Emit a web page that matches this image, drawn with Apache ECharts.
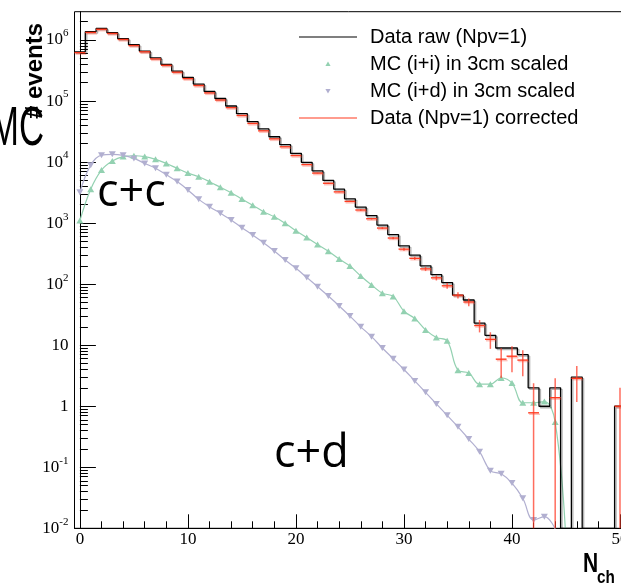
<!DOCTYPE html>
<html>
<head>
<meta charset="utf-8">
<script src="https://cdn.jsdelivr.net/npm/echarts@6/dist/echarts.min.js"></script>
<style>
  html, body { margin: 0; padding: 0; background: #fff; }
  #chart { width: 621px; height: 584px; }
</style>
</head>
<body>
<div id="chart"></div>
<script>
// bin centres (N_ch)
const nch = [0, 1, 2, 3, 4, 5, 6, 7, 8, 9, 10, 11, 12, 13, 14, 15, 16, 17, 18, 19, 20,
  21, 22, 23, 24, 25, 26, 27, 28, 29, 30, 31, 32, 33, 34, 35, 36, 37, 38, 39, 40,
  41, 42, 43, 44, 45, 46, 47, 48, 49, 50];

// Data raw (Npv=1), black histogram
const dataRaw = [6.4e5, 1.37e6, 1.55e6, 1.32e6, 1.05e6, 8.4e5, 6.6e5, 5.1e5, 4.0e5, 3.1e5,
  2.45e5, 1.9e5, 1.44e5, 1.1e5, 8.3e4, 6.2e4, 4.6e4, 3.5e4, 2.6e4, 1.93e4,
  1.39e4, 9900, 7200, 5000, 3600, 2500, 1830, 1330, 930, 650,
  425, 300, 200, 143, 106, 66, 55, 23, 14.5, 9,
  9, 7, 2, 1, 2, 0, 3, 0, 0, 0, 1];

// Data (Npv=1) corrected, red points with errors
const dataCorr = [6.2e5, 1.33e6, 1.5e6, 1.28e6, 1.02e6, 8.1e5, 6.4e5, 4.9e5, 3.85e5, 2.97e5,
  2.33e5, 1.8e5, 1.36e5, 1.04e5, 7.8e4, 5.8e4, 4.3e4, 3.25e4, 2.4e4, 1.78e4,
  1.28e4, 9100, 6600, 4500, 3250, 2270, 1640, 1180, 830, 570,
  375, 265, 178, 127, 94, 66, 51, 21, 12.5, 5.9,
  6.6, 5.7, 0.78, null, 1.38, null, 2.87, null, null, null, 1.0];
const dataErr = [800, 1170, 1245, 1150, 1025, 917, 812, 714, 632, 557,
  495, 436, 379, 332, 288, 249, 214, 187, 161, 139,
  118, 99, 85, 71, 60, 50, 43, 36, 30, 25,
  21, 17, 14, 12, 10, 8, 7.4, 4.8, 3.8, 3,
  3, 2.6, 1.6, 0, 1.5, 0, 1.7, 0, 0, 0, 1];

// MC (i+i) in 3cm scaled, green
const mcII = [1100, 3600, 7400, 10400, 12300, 12700, 12300, 11100, 9500, 7900,
  6600, 5750, 4770, 3860, 3150, 2480, 1960, 1540, 1270, 993,
  752, 580, 447, 347, 258, 198, 136, 97, 71, 63,
  36, 27.5, 17.8, 13.4, 11.8, 3.9, 3.5, 2.3, 2.3, 2.9,
  2.4, 1.14, 1.14, 1.19, 0.55, 0.006];

// MC (i+d) in 3cm scaled, purple
const mcID = [3200, 8900, 13000, 13400, 12900, 11500, 9500, 7900, 6200, 4800,
  3500, 2450, 1860, 1450, 1130, 841, 638, 478, 349, 249,
  182, 129, 91, 64, 44, 30, 20, 13.8, 9.0, 6.0,
  4.0, 2.6, 1.69, 1.09, 0.71, 0.46, 0.29, 0.18, 0.088, 0.078,
  0.055, 0.031, 0.0137, 0.0155, 0.0098];

const xMajor = [0, 10, 20, 30, 40, 50];
const xMinor = [2, 4, 6, 8, 12, 14, 16, 18, 22, 24, 26, 28, 32, 34, 36, 38, 42, 44, 46, 48];
const yMajor = [0.01, 0.1, 1, 10, 100, 1e3, 1e4, 1e5, 1e6];

const Y_MIN = 0.01;
const Y_MAX = 2.91e6;
const RED = '#ff3a1f';
const GREEN = '#93d1b1';
const PURPLE = '#b1afd0';

const yMinor = [];
yMajor.forEach(d => {
  for (let k = 2; k <= 9; k++) {
    const v = +(k * d).toPrecision(3);
    if (v < Y_MAX) yMinor.push(v);
  }
});

// histogram outline: each bin drawn from its lower to upper edge
const histPts = [];
nch.forEach((x, i) => {
  const v = dataRaw[i] > 0 ? dataRaw[i] : Y_MIN;
  histPts.push([x - 0.5, v], [x + 0.5, v]);
});

const corrPts = nch
  .map((x, i) => [x, dataCorr[i], dataErr[i]])
  .filter(d => d[1] != null);

const iiPts = mcII.map((v, i) => [nch[i], v]);
const idPts = mcID.map((v, i) => [nch[i], v]);

const LINE_ICON = 'path://M0,0M66,20M0,9.4L58,9.4L58,10.6L0,10.6Z';
const UP_ICON = 'path://M0,0M66,20M29,7.5L31.6,12L26.4,12Z';
const DOWN_ICON = 'path://M0,0M66,20M26.4,8L31.6,8L29,12.5Z';

const serif = '"Liberation Serif", "DejaVu Serif", serif';
const sans = '"Liberation Sans", Arial, sans-serif';

const chart = echarts.init(document.getElementById('chart'));
chart.setOption({
  animation: false,
  backgroundColor: '#fff',
  grid: {
    // the frame runs past the right edge of the picture, like the original crop
    left: 74.5, top: 11.7, bottom: 55.7, width: 567.1,
    outerBoundsMode: 'none',
    containLabel: false,
    show: true, borderColor: '#000', borderWidth: 1
  },
  legend: {
    orient: 'vertical',
    left: 294, top: 22,
    itemWidth: 66, itemHeight: 20, itemGap: 7,
    selectedMode: false,
    textStyle: { fontFamily: sans, fontSize: 20, color: '#000', lineHeight: 20 },
    data: [
      { name: 'Data raw (Npv=1)', icon: LINE_ICON, itemStyle: { borderWidth: 0, color: '#000' } },
      { name: 'MC (i+i) in 3cm scaled', icon: UP_ICON, itemStyle: { borderWidth: 0, color: GREEN } },
      { name: 'MC (i+d) in 3cm scaled', icon: DOWN_ICON, itemStyle: { borderWidth: 0, color: PURPLE } },
      { name: 'Data (Npv=1) corrected', icon: LINE_ICON, itemStyle: { borderWidth: 0, color: RED } }
    ]
  },
  xAxis: [
    {
      type: 'value', min: -0.5, max: 52, position: 'bottom',
      axisLine: { lineStyle: { color: '#000', width: 1 } },
      axisTick: { inside: true, length: 14, customValues: xMajor, lineStyle: { color: '#000' } },
      axisLabel: {
        customValues: xMajor, margin: 3,
        fontFamily: serif, fontSize: 17, color: '#000'
      },
      splitLine: { show: false }
    },
    {
      type: 'value', min: -0.5, max: 52, position: 'bottom',
      axisLine: { show: false },
      axisTick: { inside: true, length: 7, customValues: xMinor, lineStyle: { color: '#000' } },
      axisLabel: { show: false },
      splitLine: { show: false }
    }
  ],
  yAxis: [
    {
      type: 'log', logBase: 10, min: Y_MIN, max: Y_MAX, position: 'left',
      axisLine: { show: true, lineStyle: { color: '#000', width: 1 } },
      axisTick: { inside: true, length: 16, customValues: yMajor, lineStyle: { color: '#000' } },
      axisLabel: {
        customValues: yMajor, margin: 6,
        formatter: v => {
          const n = Math.round(Math.log10(v));
          if (n === 0) return '{b|1}';
          if (n === 1) return '{b|10}';
          return '{b|10}{s|' + n + '}';
        },
        rich: {
          b: { fontFamily: serif, fontSize: 17, lineHeight: 24, color: '#000' },
          s: { fontFamily: serif, fontSize: 11, lineHeight: 11, verticalAlign: 'top', color: '#000' }
        }
      },
      splitLine: { show: false }
    },
    {
      type: 'log', logBase: 10, min: Y_MIN, max: Y_MAX, position: 'left',
      axisLine: { show: false },
      axisTick: { inside: true, length: 8, customValues: yMinor, lineStyle: { color: '#000' } },
      axisLabel: { show: false },
      splitLine: { show: false }
    }
  ],
  series: [
    {
      name: 'Data raw (Npv=1)',
      type: 'line',
      data: histPts,
      symbol: 'none',
      z: 3,
      itemStyle: { color: '#000' },
      lineStyle: {
        color: '#000', width: 1.3,
        shadowColor: 'rgba(0,0,0,0.3)', shadowOffsetX: 1.5, shadowOffsetY: 1.5
      }
    },
    {
      name: 'MC (i+i) in 3cm scaled',
      type: 'line',
      data: iiPts,
      smooth: 0.4,
      symbol: 'triangle',
      symbolSize: [7, 6],
      z: 2,
      itemStyle: { color: GREEN },
      lineStyle: { color: GREEN, width: 1.2 }
    },
    {
      name: 'MC (i+d) in 3cm scaled',
      type: 'line',
      data: idPts,
      smooth: 0.4,
      symbol: 'triangle',
      symbolRotate: 180,
      symbolSize: [7, 6],
      z: 2,
      itemStyle: { color: PURPLE },
      lineStyle: { color: PURPLE, width: 1.2 }
    },
    {
      name: 'Data (Npv=1) corrected',
      type: 'custom',
      data: corrPts,
      z: 4,
      itemStyle: { color: RED },
      renderItem: (params, api) => {
        const x = api.value(0), v = api.value(1), e = api.value(2);
        const l = api.coord([x - 0.5, v]);
        const r = api.coord([x + 0.5, v]);
        const t = api.coord([x, v + e]);
        const b = api.coord([x, Math.max(v - e, Y_MIN)]);
        return {
          type: 'group',
          children: [
            {
              type: 'line',
              shape: { x1: t[0], y1: t[1], x2: b[0], y2: b[1] },
              style: { stroke: 'rgba(255,60,40,0.75)', lineWidth: 1.5 }
            },
            {
              type: 'line',
              shape: { x1: l[0], y1: l[1], x2: r[0], y2: r[1] },
              style: {
                stroke: RED, lineWidth: 1.4,
                shadowColor: 'rgba(255,80,60,0.35)', shadowOffsetX: 1, shadowOffsetY: 1.5
              }
            }
          ]
        };
      }
    }
  ],
  graphic: [
    {
      type: 'text', x: 35, y: 71, rotation: Math.PI / 2,
      style: {
        text: '# events', fontFamily: sans, fontWeight: 'bold', fontSize: 24,
        fill: '#000', align: 'center', verticalAlign: 'middle'
      }
    },
    {
      type: 'text', x: 44, y: 130, scaleX: 0.62,
      style: {
        text: 'MC', fontFamily: sans, fontSize: 56,
        fill: '#000', align: 'right', verticalAlign: 'middle'
      }
    },
    {
      type: 'text', x: 97, y: 193,
      style: {
        text: 'c+c', fontFamily: '"Open Sans", "Noto Sans", sans-serif', fontSize: 45,
        fill: '#000', align: 'left', verticalAlign: 'middle'
      }
    },
    {
      type: 'text', x: 274, y: 454,
      style: {
        text: 'c+d', fontFamily: '"Open Sans", "Noto Sans", sans-serif', fontSize: 45,
        fill: '#000', align: 'left', verticalAlign: 'middle'
      }
    },
    {
      type: 'text', x: 583, y: 564, scaleX: 0.75,
      style: {
        text: 'N', fontFamily: sans, fontWeight: 'bold', fontSize: 28,
        fill: '#000', align: 'left', verticalAlign: 'middle'
      }
    },
    {
      type: 'text', x: 597, y: 578.5, scaleX: 0.85,
      style: {
        text: 'ch', fontFamily: sans, fontWeight: 'bold', fontSize: 18,
        fill: '#000', align: 'left', verticalAlign: 'middle'
      }
    }
  ]
});
</script>
</body>
</html>
